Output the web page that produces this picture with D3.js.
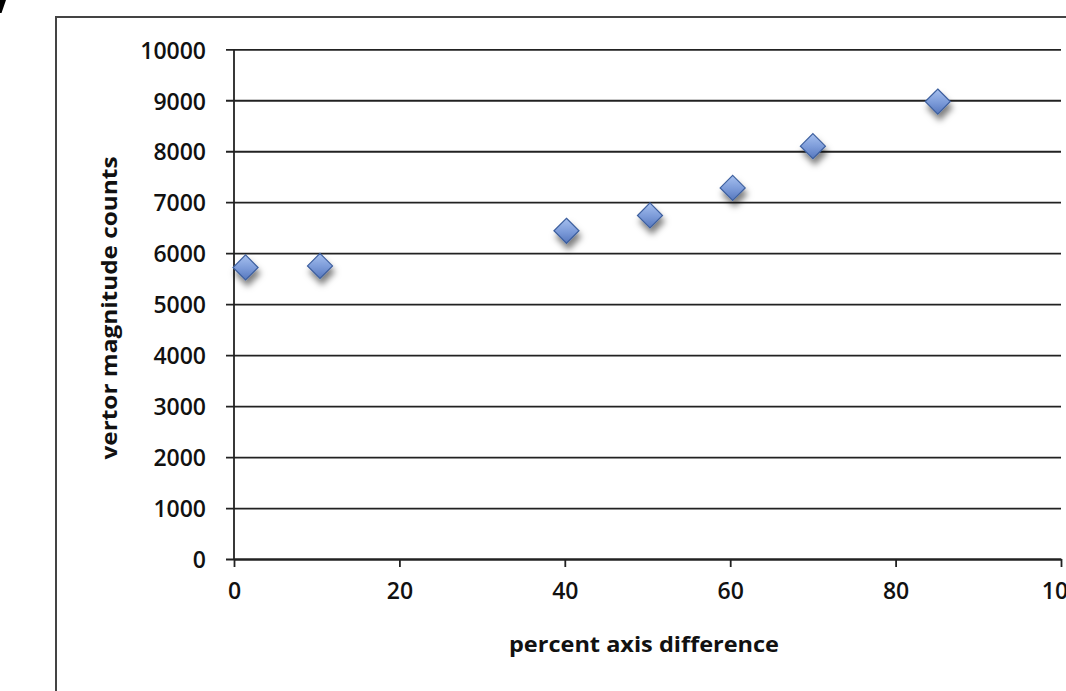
<!DOCTYPE html>
<html>
<head>
<meta charset="utf-8">
<script src="https://cdn.jsdelivr.net/npm/d3@7"></script>
<style>
  html, body { margin: 0; padding: 0; background: #fff; overflow: hidden; }
  svg { display: block; }
</style>
</head>
<body>
<script>
// Scatter data: percent axis difference vs. vector magnitude counts
const xValues = [1.4, 10.4, 40.2, 50.3, 60.3, 70.0, 85.1];
const yValues = [5720, 5750, 6440, 6740, 7280, 8100, 8975];
const xTicks = [0, 20, 40, 60, 80, 100];
const yTicks = [0, 1000, 2000, 3000, 4000, 5000, 6000, 7000, 8000, 9000, 10000];
const xTitle = "percent axis difference";
const yTitle = "vertor magnitude counts";

const W = 1066, H = 691;
const plot = { left: 234, right: 1061, top: 49.3, bottom: 559 };

const svg = d3.select("body").append("svg")
  .attr("width", W).attr("height", H);

const defs = svg.append("defs");
const grad = defs.append("linearGradient")
  .attr("id", "markerFill").attr("x1", 0).attr("y1", 0).attr("x2", 0).attr("y2", 1);
grad.append("stop").attr("offset", "0%").attr("stop-color", "#a6c0ef");
grad.append("stop").attr("offset", "55%").attr("stop-color", "#7b9ad8");
grad.append("stop").attr("offset", "100%").attr("stop-color", "#5677bd");

const shadow = defs.append("filter").attr("id", "markerShadow")
  .attr("x", "-60%").attr("y", "-60%").attr("width", "220%").attr("height", "220%");
shadow.append("feDropShadow")
  .attr("dx", 2).attr("dy", 6).attr("stdDeviation", 3)
  .attr("flood-color", "#000").attr("flood-opacity", 0.5);

// small stroke fragment at the top-left corner
svg.append("path")
  .attr("d", "M0,0 L6,0 L1.5,13 L0,13 Z")
  .attr("fill", "#000");

// chart area border (continues past the right and bottom edges)
svg.append("rect")
  .attr("x", 56).attr("y", 17)
  .attr("width", 1200).attr("height", 900)
  .attr("fill", "none")
  .attr("stroke", "#444").attr("stroke-width", 2);

const x = d3.scaleLinear().domain([0, 100]).range([plot.left, plot.right]);
const y = d3.scaleLinear().domain([0, 10000]).range([plot.bottom, plot.top]);

const font = "'Open Sans', 'DejaVu Sans', sans-serif";
const lineColor = "#222";
const lineWidth = 1.8;

// horizontal gridlines with left tick marks
const yAxis = d3.axisLeft(y)
  .tickValues(yTicks)
  .tickSize(-(plot.right - plot.left))
  .tickSizeOuter(0)
  .tickFormat(d3.format("d"));
const gy = svg.append("g")
  .attr("transform", `translate(${plot.left},0)`)
  .call(yAxis);
gy.select(".domain").remove();
gy.selectAll(".tick line")
  .attr("x1", -8)
  .attr("stroke", lineColor).attr("stroke-width", lineWidth);
gy.selectAll(".tick text")
  .attr("x", -28).attr("dy", "0.38em")
  .attr("fill", "#111")
  .style("font-family", font).style("font-size", "23px").style("font-weight", 600);

// vertical axis line
svg.append("line")
  .attr("x1", plot.left).attr("x2", plot.left)
  .attr("y1", plot.top).attr("y2", plot.bottom)
  .attr("stroke", lineColor).attr("stroke-width", lineWidth);

// horizontal axis
const xAxis = d3.axisBottom(x)
  .tickValues(xTicks)
  .tickSize(8)
  .tickSizeOuter(0)
  .tickFormat(d3.format("d"));
const gx = svg.append("g")
  .attr("transform", `translate(0,${plot.bottom})`)
  .call(xAxis);
gx.select(".domain")
  .attr("stroke", lineColor).attr("stroke-width", lineWidth);
gx.selectAll(".tick line")
  .attr("stroke", lineColor).attr("stroke-width", lineWidth);
gx.selectAll(".tick text")
  .attr("y", 40).attr("dy", "0")
  .attr("fill", "#111")
  .style("font-family", font).style("font-size", "23px").style("font-weight", 600);

// axis titles
svg.append("text")
  .attr("x", 644).attr("y", 652)
  .attr("text-anchor", "middle")
  .attr("textLength", 270).attr("lengthAdjust", "spacingAndGlyphs")
  .attr("fill", "#111")
  .style("font-family", font).style("font-size", "22px").style("font-weight", 700)
  .text(xTitle);

svg.append("text")
  .attr("transform", "translate(117,308) rotate(-90)")
  .attr("text-anchor", "middle")
  .attr("textLength", 303).attr("lengthAdjust", "spacingAndGlyphs")
  .attr("fill", "#111")
  .style("font-family", font).style("font-size", "22px").style("font-weight", 700)
  .text(yTitle);

// diamond markers
const points = xValues.map((v, i) => ({ x: v, y: yValues[i] }));
const diamond = d3.symbol().type(d3.symbolDiamond2).size(400);
svg.append("g").selectAll("path")
  .data(points)
  .join("path")
  .attr("d", diamond)
  .attr("transform", d => `translate(${x(d.x)},${y(d.y)})`)
  .attr("fill", "url(#markerFill)")
  .attr("stroke", "#3d5f9e").attr("stroke-width", 1.2)
  .attr("filter", "url(#markerShadow)");
</script>
</body>
</html>
